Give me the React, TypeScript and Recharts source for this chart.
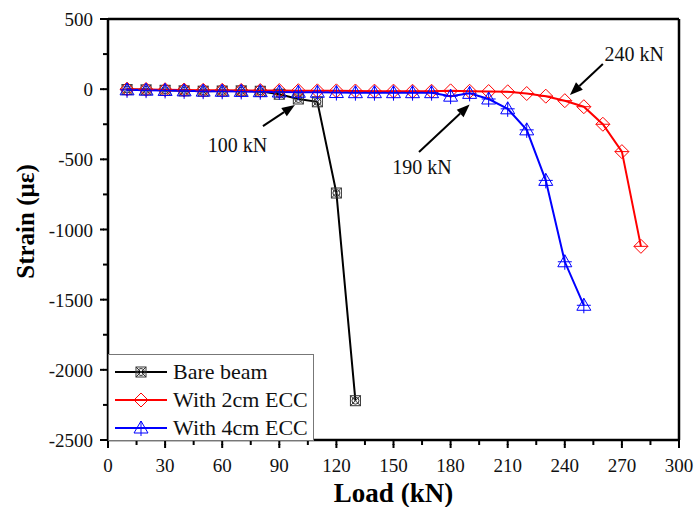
import React from 'react';
import {
  Legend,
  Line,
  LineChart,
  ReferenceDot,
  ReferenceLine,
  XAxis,
  YAxis,
} from 'recharts';

// load steps (kN) and measured strain (με) for each specimen
const bareLoads = [10, 20, 30, 40, 50, 60, 70, 80, 90, 100, 110, 120, 130];
const bareStrain = [-3, -5, -8, -12, -14, -13, -12, -15, -36, -70, -90, -740, -2220];

const ecc2Loads = [
  10, 20, 30, 40, 50, 60, 70, 80, 90, 100, 110, 120, 130, 140,
  150, 160, 170, 180, 190, 200, 210, 220, 230, 240, 250, 260, 270, 280,
];
const ecc2Strain = [
  0, -2, -4, -6, -8, -8, -9, -10, -10, -11, -12, -12, -13, -14,
  -14, -15, -15, -12, -15, -17, -19, -31, -50, -82, -125, -250, -445, -1120,
];

const ecc4Loads = [
  10, 20, 30, 40, 50, 60, 70, 80, 90, 100, 110, 120, 130,
  140, 150, 160, 170, 180, 190, 200, 210, 220, 230, 240, 250,
];
const ecc4Strain = [
  -5, -7, -9, -12, -14, -15, -16, -18, -20, -22, -22, -24, -25,
  -25, -25, -25, -25, -50, -30, -70, -140, -290, -650, -1230, -1540,
];

const xTicks = [0, 15, 30, 45, 60, 75, 90, 105, 120, 135, 150, 165, 180, 195, 210, 225, 240, 255, 270, 285, 300];
const yTicks = [500, 250, 0, -250, -500, -750, -1000, -1250, -1500, -1750, -2000, -2250, -2500];

// annotations: label text, arrow tail and tip in data units, label position
const notes = [
  { text: '100 kN', tail: [81.4, -263], tip: [98.2, -113], at: [68, -400] },
  { text: '190 kN', tail: [163.4, -448], tip: [190, -110], at: [165, -555] },
  { text: '240 kN', tail: [260, 180], tip: [242.7, -41], at: [276.5, 250] },
];

const toPoints = (loads: number[], strain: number[]) =>
  loads.map((load, i) => ({ load, strain: strain[i] }));

const bareData = toPoints(bareLoads, bareStrain);
const ecc2Data = toPoints(ecc2Loads, ecc2Strain);
const ecc4Data = toPoints(ecc4Loads, ecc4Strain);

const FONT = '"Liberation Serif", "Times New Roman", serif';
const MINOR = 5;

const BoxX = ({ cx, cy }: { cx: number; cy: number }) => (
  <g stroke="#333" strokeWidth={1} fill="none">
    <rect x={cx - 5} y={cy - 5} width={10} height={10} />
    <circle cx={cx} cy={cy} r={3.5} />
    <line x1={cx - 5} y1={cy - 5} x2={cx + 5} y2={cy + 5} />
    <line x1={cx - 5} y1={cy + 5} x2={cx + 5} y2={cy - 5} />
  </g>
);

const Diamond = ({ cx, cy }: { cx: number; cy: number }) => (
  <g stroke="#ff0000" strokeWidth={1} fill="none">
    <polygon points={`${cx},${cy - 7} ${cx + 7},${cy} ${cx},${cy + 7} ${cx - 7},${cy}`} />
    <line x1={cx - 7} y1={cy} x2={cx + 7} y2={cy} />
  </g>
);

const Tri = ({ cx, cy }: { cx: number; cy: number }) => (
  <g stroke="#0000ff" strokeWidth={1} fill="none">
    <polygon points={`${cx},${cy - 7} ${cx + 7},${cy + 5} ${cx - 7},${cy + 5}`} />
    <line x1={cx} y1={cy - 7} x2={cx} y2={cy + 8} />
    <line x1={cx - 7} y1={cy} x2={cx + 7} y2={cy} />
  </g>
);

const dotOf = (Shape: React.FC<{ cx: number; cy: number }>) => (p: any) =>
  <Shape key={`${p.index}`} cx={p.cx} cy={p.cy} />;

// p.y sits at the end of the short tick; majors get a longer mark
const XTick = (p: any) => {
  const v = p.payload.value;
  const major = v % 30 === 0;
  const x = Number(p.x);
  const y = Number(p.y);
  return (
    <g>
      {major && <path d={`M${x},${y - 1}V${y + 3}`} stroke="#000" strokeWidth={2} fill="none" />}
      {major && (
        <text x={x} y={y + 27} textAnchor="middle" fontSize={19} fontFamily={FONT} fill="#111">
          {v}
        </text>
      )}
    </g>
  );
};

const YTick = (p: any) => {
  const v = p.payload.value;
  const major = v % 500 === 0;
  const x = Number(p.x);
  const y = Number(p.y);
  return (
    <g>
      {major && <path d={`M${x + 1},${y}H${x - 3}`} stroke="#000" strokeWidth={2} fill="none" />}
      {major && (
        <text x={x - 10} y={y + 7} textAnchor="end" fontSize={19} fontFamily={FONT} fill="#111">
          {v}
        </text>
      )}
    </g>
  );
};

const Arrow = (p: any) => {
  const { x1, y1, x2, y2 } = p;
  const a = Math.atan2(y2 - y1, x2 - x1);
  const len = 13;
  const w = 5;
  const bx = x2 - len * Math.cos(a);
  const by = y2 - len * Math.sin(a);
  const px = -Math.sin(a) * w;
  const py = Math.cos(a) * w;
  return (
    <g>
      <line x1={x1} y1={y1} x2={bx} y2={by} stroke="#000" strokeWidth={2} />
      <polygon points={`${x2},${y2} ${bx + px},${by + py} ${bx - px},${by - py}`} fill="#000" />
    </g>
  );
};

const legendRows = [
  { name: 'Bare beam', color: '#000', Shape: BoxX },
  { name: 'With 2cm ECC', color: '#ff0000', Shape: Diamond },
  { name: 'With 4cm ECC', color: '#0000ff', Shape: Tri },
];

const LegendBox = () => (
  <svg width={206} height={87} style={{ display: 'block' }}>
    <rect x={0.5} y={0.5} width={205} height={86} fill="#fff" stroke="#777" strokeWidth={1} />
    {legendRows.map((r, i) => {
      const y = 18 + i * 28;
      return (
        <g key={r.name}>
          <line x1={7} y1={y} x2={59} y2={y} stroke={r.color} strokeWidth={2} />
          <r.Shape cx={33} cy={y} />
          <text x={65} y={y + 7} fontSize={22} fontFamily={FONT} fill="#111">
            {r.name}
          </text>
        </g>
      );
    })}
  </svg>
);

export default function App() {
  return (
    <div style={{ position: 'absolute', left: 0, top: 0, background: '#fff' }}>
      <LineChart width={697} height={507} margin={{ top: 19, right: 18, bottom: 0, left: 0 }}>
        <XAxis
          dataKey="load"
          type="number"
          domain={[0, 300]}
          ticks={xTicks}
          interval={0}
          height={67}
          tickSize={MINOR}
          tickMargin={0}
          tickLine={{ stroke: '#000', strokeWidth: 2 }}
          tick={XTick}
          axisLine={{ stroke: '#000', strokeWidth: 2.5 }}
          label={({ viewBox }: any) => (
            <text
              x={viewBox.x + viewBox.width / 2}
              y={viewBox.y + 62}
              textAnchor="middle"
              fontSize={27}
              fontWeight="bold"
              fontFamily={FONT}
              fill="#000"
            >
              Load (kN)
            </text>
          )}
        />
        <YAxis
          dataKey="strain"
          type="number"
          domain={[-2500, 500]}
          ticks={yTicks}
          interval={0}
          width={108}
          tickSize={MINOR}
          tickMargin={0}
          tickLine={{ stroke: '#000', strokeWidth: 2 }}
          tick={YTick}
          axisLine={{ stroke: '#000', strokeWidth: 2.5 }}
          label={({ viewBox }: any) => {
            const cx = 25;
            const cy = viewBox.y + viewBox.height / 2 - 8;
            return (
              <text
                x={cx}
                y={cy}
                transform={`rotate(-90, ${cx}, ${cy})`}
                textAnchor="middle"
                dominantBaseline="central"
                fontSize={25}
                fontWeight="bold"
                fontFamily={FONT}
                fill="#000"
              >
                Strain (με)
              </text>
            );
          }}
        />
        {/* top and right edges of the frame */}
        <ReferenceLine y={500} stroke="#000" strokeWidth={2.5} ifOverflow="visible" />
        <ReferenceLine x={300} stroke="#000" strokeWidth={2.5} ifOverflow="visible" />
        <Line
          data={bareData}
          dataKey="strain"
          name="Bare beam"
          stroke="#000"
          strokeWidth={2}
          dot={dotOf(BoxX)}
          isAnimationActive={false}
        />
        <Line
          data={ecc2Data}
          dataKey="strain"
          name="With 2cm ECC"
          stroke="#ff0000"
          strokeWidth={2}
          dot={dotOf(Diamond)}
          isAnimationActive={false}
        />
        <Line
          data={ecc4Data}
          dataKey="strain"
          name="With 4cm ECC"
          stroke="#0000ff"
          strokeWidth={2}
          dot={dotOf(Tri)}
          isAnimationActive={false}
        />
        {notes.map((n) => (
          <ReferenceLine
            key={`arrow-${n.text}`}
            segment={[
              { x: n.tail[0], y: n.tail[1] },
              { x: n.tip[0], y: n.tip[1] },
            ]}
            shape={Arrow}
          />
        ))}
        {notes.map((n) => (
          <ReferenceDot
            key={`note-${n.text}`}
            x={n.at[0]}
            y={n.at[1]}
            r={0}
            fill="none"
            stroke="none"
            label={{
              value: n.text,
              position: 'center',
              fontSize: 20,
              fontFamily: FONT,
              fill: '#111',
            }}
          />
        ))}
        <Legend
          layout="vertical"
          align="center"
          verticalAlign="middle"
          wrapperStyle={{ left: 108, top: 354, width: 206, height: 87 }}
          content={() => <LegendBox />}
        />
      </LineChart>
    </div>
  );
}
